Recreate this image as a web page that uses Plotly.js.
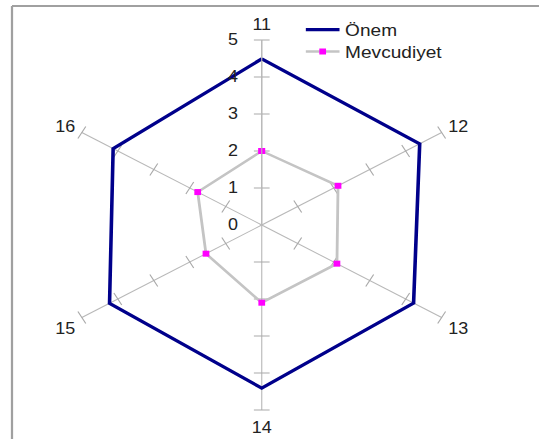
<!DOCTYPE html>
<html>
<head>
<meta charset="utf-8">
<script src="https://cdn.plot.ly/plotly-3.0.1.min.js"></script>
<style>
html,body{margin:0;padding:0;background:#fff;overflow:hidden;}
#wrap{width:539px;height:439px;overflow:hidden;}
/* the reference picture is horizontally stretched; reproduce that */
#chart{width:480px;height:439px;transform:scaleX(1.1229);transform-origin:0 0;}
</style>
</head>
<body>
<div id="wrap"><div id="chart"></div></div>
<script>
const categories = ['11', '12', '13', '14', '15', '16'];
const onem = [4.49, 4.39, 4.22, 4.41, 4.23, 4.13];
const mevcudiyet = [2.0, 2.12, 2.09, 2.1, 1.55, 1.78];
const radialTicks = [0, 1, 2, 3, 4, 5];

const close = a => a.concat([a[0]]);

// small cross ticks on every spoke (built from the radial tick values)
const tickR = [], tickTheta = [], tickAngle = [];
const spokeTickAngle = [0, 60, -60, 0, 60, -60];
categories.forEach((c, i) => {
  radialTicks.slice(1).forEach(t => {
    tickR.push(t); tickTheta.push(c); tickAngle.push(spokeTickAngle[i]);
  });
});

const font = {family: 'Liberation Sans, Arial, sans-serif', size: 16, color: '#222222'};
const legendFont = {family: 'Liberation Sans, Arial, sans-serif', size: 17, color: '#222222'};

const data = [
  {
    type: 'scatterpolar', r: tickR, theta: tickTheta, mode: 'markers',
    marker: {symbol: 'line-ew', size: 10, angle: tickAngle, line: {color: '#a8a8a8', width: 1}},
    showlegend: false, hoverinfo: 'skip'
  },
  {
    type: 'scatterpolar', name: 'Önem', r: close(onem), theta: close(categories),
    mode: 'lines', line: {color: '#00008b', width: 3.2}, legend: 'legend'
  },
  {
    type: 'scatterpolar', name: 'Mevcudiyet', r: close(mevcudiyet), theta: close(categories),
    mode: 'lines+markers', line: {color: '#c4c4c4', width: 2.5},
    marker: {color: '#ff00ff', symbol: 'square', size: 6}, legend: 'legend2'
  }
];

const legendBase = {
  x: 0.557, xanchor: 'left', yanchor: 'middle',
  font: legendFont, itemwidth: 30, bgcolor: 'rgba(0,0,0,0)', borderwidth: 0
};

const layout = {
  width: 480, height: 439,
  margin: {l: 0, r: 0, t: 0, b: 0},
  paper_bgcolor: '#ffffff',
  font: font,
  showlegend: true,
  legend: Object.assign({}, legendBase, {y: 1 - 30 / 439}),
  legend2: Object.assign({}, legendBase, {y: 1 - 52 / 439}),
  polar: {
    domain: {x: [48.1 / 480, 418.1 / 480], y: [29 / 439, 399 / 439]},
    bgcolor: '#ffffff',
    gridshape: 'linear',
    radialaxis: {
      range: [0, 5], tickvals: radialTicks, angle: 90, side: 'counterclockwise',
      showgrid: false, showline: true, linecolor: '#b8b8b8', linewidth: 1,
      ticks: 'outside', ticklen: 15, tickcolor: 'rgba(0,0,0,0)', tickfont: font, tickangle: 90
    },
    angularaxis: {
      type: 'category', categoryarray: categories, rotation: 90, direction: 'clockwise',
      showline: false, showgrid: true, gridcolor: '#b8b8b8', gridwidth: 1,
      ticks: 'outside', ticklen: 3, tickcolor: 'rgba(0,0,0,0)', tickfont: font
    }
  },
  shapes: [
    {type: 'line', xref: 'paper', yref: 'paper', x0: 12 / 539, x1: 1, y0: 1 - 6 / 439, y1: 1 - 6 / 439, line: {color: '#a0a0a0', width: 2}},
    {type: 'line', xref: 'paper', yref: 'paper', x0: 12 / 539, x1: 12 / 539, y0: 0, y1: 1 - 6 / 439, line: {color: '#a0a0a0', width: 2}}
  ]
};

Plotly.newPlot('chart', data, layout, {displayModeBar: false, staticPlot: true});
</script>
</body>
</html>
